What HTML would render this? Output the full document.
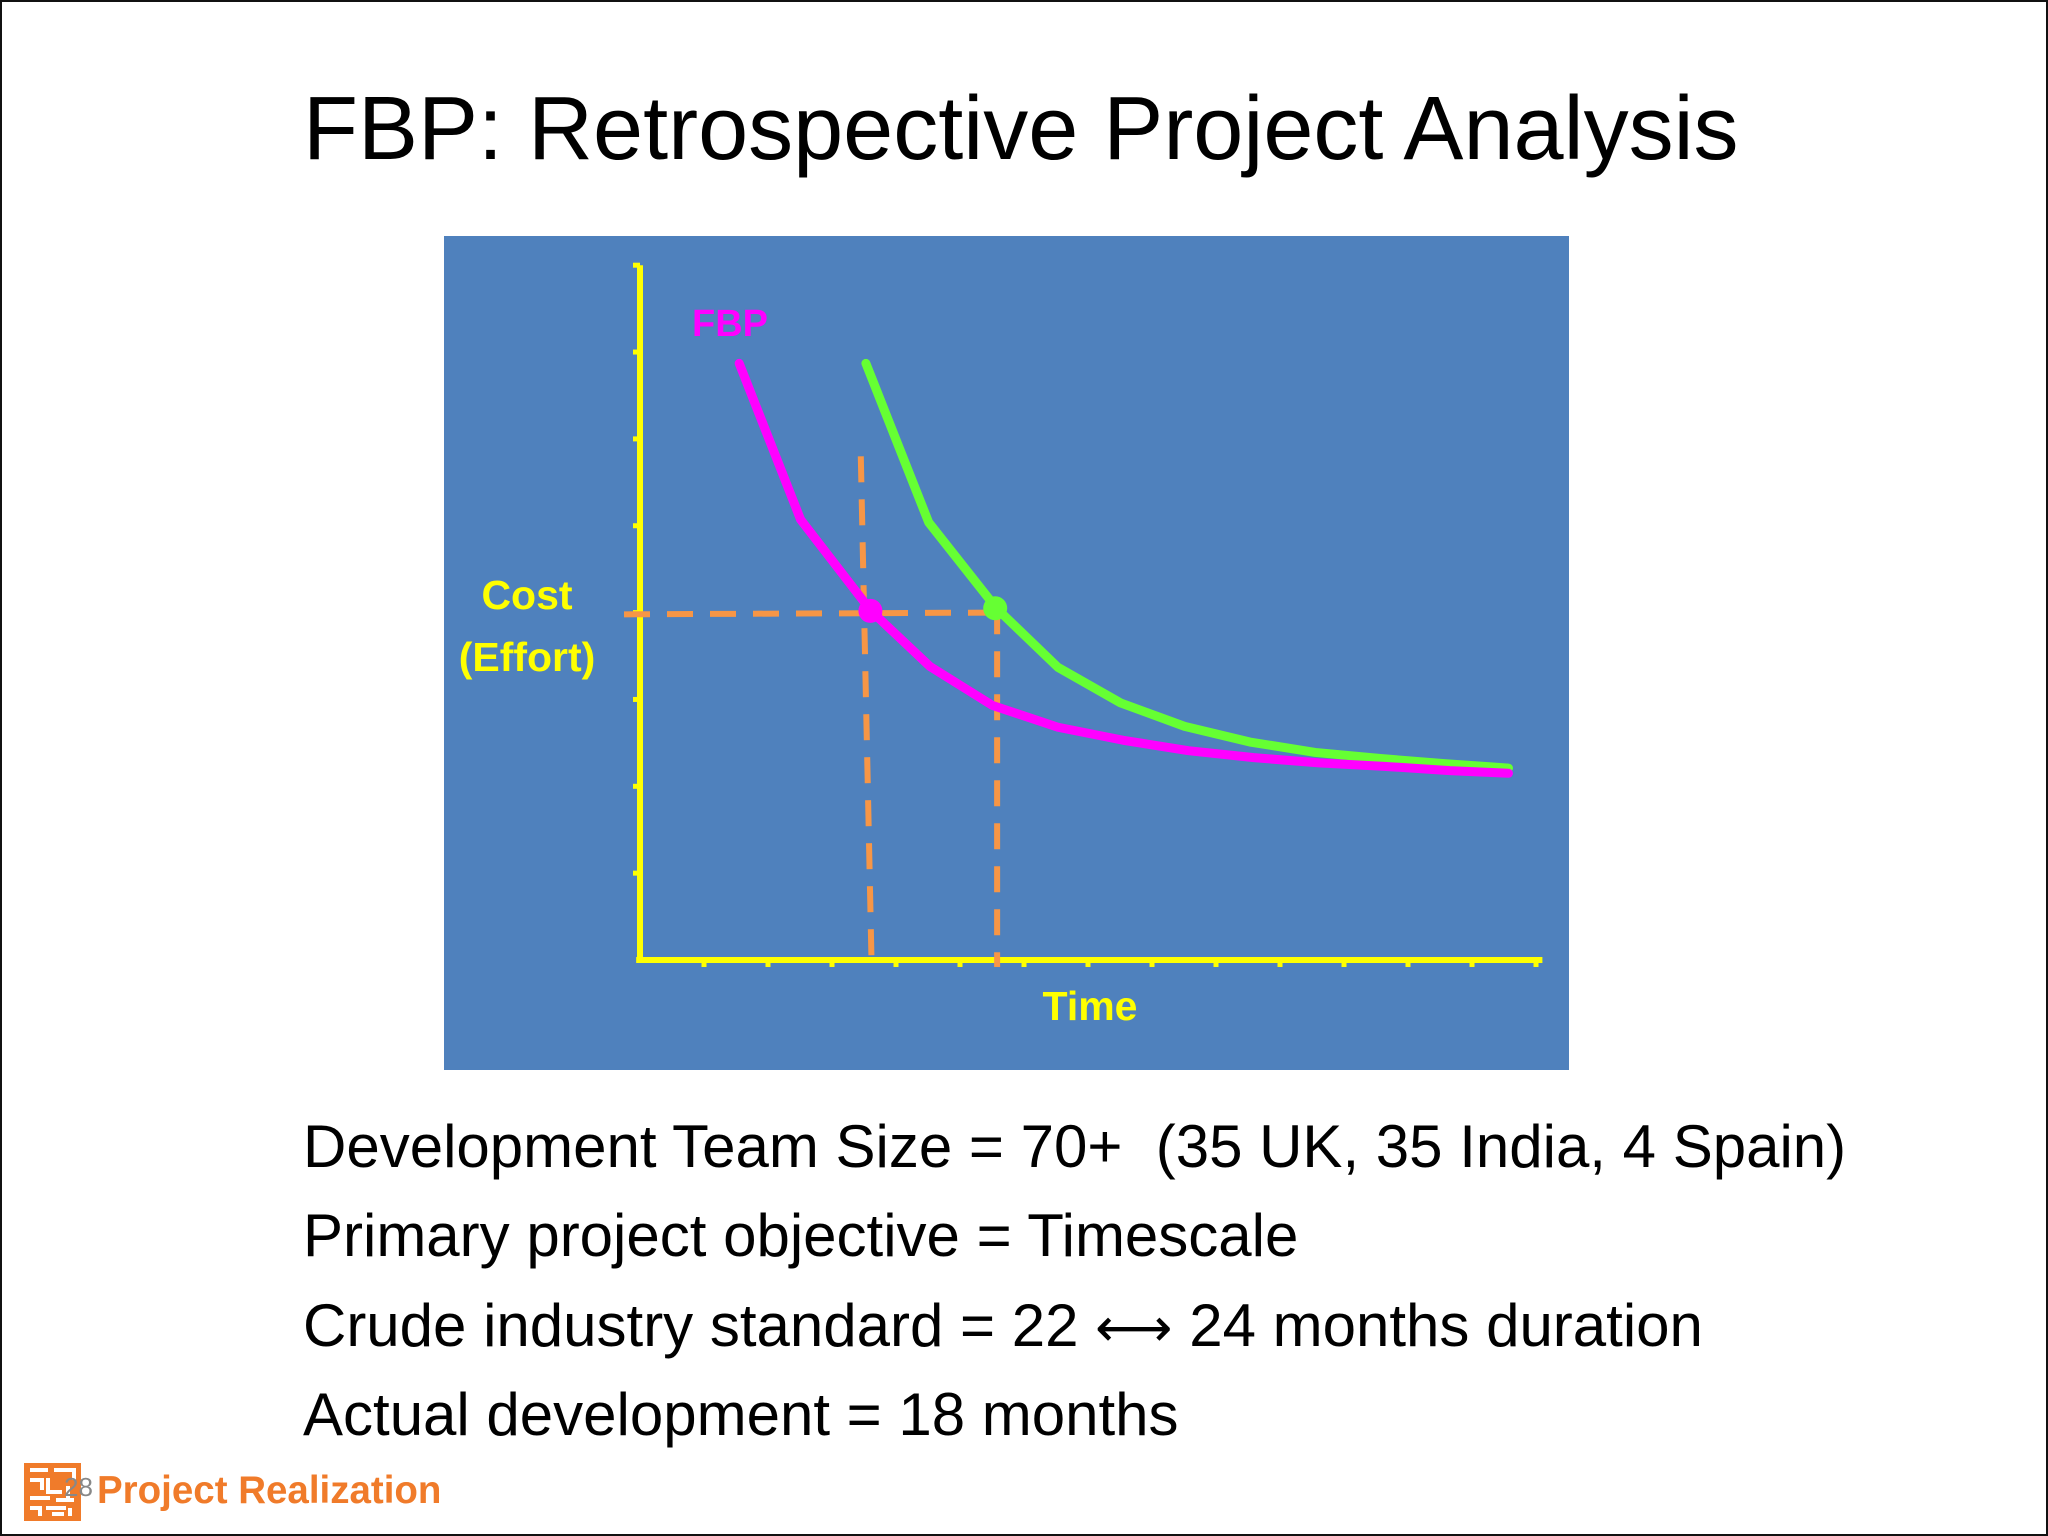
<!DOCTYPE html>
<html><head><meta charset="utf-8">
<style>
html,body{margin:0;padding:0;}
body{width:2048px;height:1536px;position:relative;background:#fff;overflow:hidden;font-family:"Liberation Sans",sans-serif;}
#frame{position:absolute;left:0;top:0;width:2044px;height:1532px;border:2px solid #111;}
#title{position:absolute;left:303px;top:78px;font-size:90px;color:#000;white-space:nowrap;}
.line{position:absolute;left:303px;font-size:60px;color:#000;white-space:nowrap;}
#footer-text{position:absolute;left:97px;top:1469px;font-size:38.5px;font-weight:bold;color:#F07B2A;white-space:nowrap;}
#page-num{position:absolute;left:64px;top:1472px;font-size:26px;color:#888;}
</style></head>
<body>
<div id="frame"></div>
<div id="title">FBP: Retrospective Project Analysis</div>
<svg id="chart" width="2048" height="1536" style="position:absolute;left:0;top:0" xmlns="http://www.w3.org/2000/svg">
<rect x="444" y="236" width="1125" height="834" fill="#4F81BD"/>
<g id="plot"></g>
<text x="730" y="336" font-family="Liberation Sans, sans-serif" font-weight="bold" font-size="38" fill="#FF00FF" text-anchor="middle">FBP</text>
<text x="527" y="609" font-family="Liberation Sans, sans-serif" font-weight="bold" font-size="41" fill="#FFFF00" text-anchor="middle">Cost</text>
<text x="527" y="671" font-family="Liberation Sans, sans-serif" font-weight="bold" font-size="41" fill="#FFFF00" text-anchor="middle">(Effort)</text>
<text x="1090" y="1020" font-family="Liberation Sans, sans-serif" font-weight="bold" font-size="41" fill="#FFFF00" text-anchor="middle">Time</text>
<g>
<rect x="24" y="1463" width="57" height="58" fill="#F07B2A"/>
<path d="M30 1470h18M54 1470h20v10M30 1480h12v10M48 1478v14h14M68 1486v12M30 1498h20M56 1500h18M30 1508h10v8M46 1508h20M70 1508v8M52 1514h12" stroke="#fff" stroke-width="4" fill="none"/>
</g>
</svg>
<div id="page-num">28</div>
<div id="footer-text">Project Realization</div>
<div class="line" style="top:1112px">Development Team Size = 70+&nbsp; (35 UK, 35 India, 4 Spain)</div>
<div class="line" style="top:1201px">Primary project objective = Timescale</div>
<div class="line" style="top:1291px">Crude industry standard = 22 <span style="font-family:'DejaVu Sans',sans-serif;font-size:54px">⟷</span> 24 months duration</div>
<div class="line" style="top:1380px">Actual development = 18 months</div>
<script>
const fbpX = [1.55, 2.51, 3.61, 4.53, 5.51, 6.53, 7.55, 8.57, 9.59, 10.61, 11.63, 12.65, 13.57];
const fbpY = [6.87, 5.07, 4.02, 3.38, 2.93, 2.68, 2.53, 2.41, 2.33, 2.27, 2.23, 2.18, 2.15];
const stdX = [3.53, 4.51, 5.57, 6.53, 7.51, 8.51, 9.53, 10.55, 11.57, 12.59, 13.57];
const stdY = [6.87, 5.04, 4.05, 3.37, 2.96, 2.69, 2.51, 2.39, 2.32, 2.26, 2.21];
const fbpPoint = [3.6, 4.02];
const stdPoint = [5.55, 4.05];
const xTicks = [1,2,3,4,5,6,7,8,9,10,11,12,13,14];
const yTicks = [1,2,3,4,5,6,7,8];
const X0 = 640, XU = 64, Y0 = 960, YU = 86.85;
const sx = v => X0 + v * XU;
const sy = v => Y0 - v * YU;
const NS = 'http://www.w3.org/2000/svg';
const g = document.getElementById('plot');
function mk(tag, attrs){const e=document.createElementNS(NS,tag);for(const k in attrs)e.setAttribute(k,attrs[k]);g.appendChild(e);return e;}
let ya = mk('line',{x1:sx(0),y1:sy(0),x2:sx(0),y2:sy(8.0),stroke:'#FFFF00','stroke-width':6});


let xa = mk('line',{x1:sx(-0.06),y1:sy(0),x2:sx(14.1),y2:sy(0),stroke:'#FFFF00','stroke-width':6});


yTicks.forEach(t=>{
  const e=mk('line',{x1:sx(0)-7,y1:sy(t),x2:sx(0),y2:sy(t),stroke:'#FFFF00','stroke-width':5});
  
  
});
xTicks.forEach(t=>{
  const e=mk('line',{x1:sx(t),y1:sy(0),x2:sx(t),y2:sy(0)+7,stroke:'#FFFF00','stroke-width':5});
  
  
});
const dash={stroke:'#F79646','stroke-width':6,'stroke-dasharray':'26 17',fill:'none'};
let h = mk('line',Object.assign({x1:sx(-0.25),y1:sy(3.98),x2:sx(stdPoint[0]),y2:sy(4.0)},dash));


let v1 = mk('line',Object.assign({x1:sx(fbpPoint[0]-0.15),y1:sy(5.8),x2:sx(fbpPoint[0]+0.02),y2:sy(-0.1)},dash));


let v2 = mk('line',Object.assign({x1:sx(stdPoint[0]+0.03),y1:sy(stdPoint[1]),x2:sx(stdPoint[0]+0.03),y2:sy(-0.08)},dash));


function poly(xs,ys,color,name){
  const p=mk('polyline',{points:xs.map((x,i)=>sx(x)+','+sy(ys[i])).join(' '),stroke:color,'stroke-width':9,fill:'none','stroke-linecap':'round','stroke-linejoin':'round'});
  
  
}
poly(stdX,stdY,'#66FF33','industry-standard-curve');
poly(fbpX,fbpY,'#FF00FF','fbp-curve');
let d1=mk('circle',{cx:sx(fbpPoint[0]),cy:sy(fbpPoint[1]),r:12,fill:'#FF00FF'});


let d2=mk('circle',{cx:sx(stdPoint[0]),cy:sy(stdPoint[1]),r:12,fill:'#66FF33'});


</script>
</body></html>
